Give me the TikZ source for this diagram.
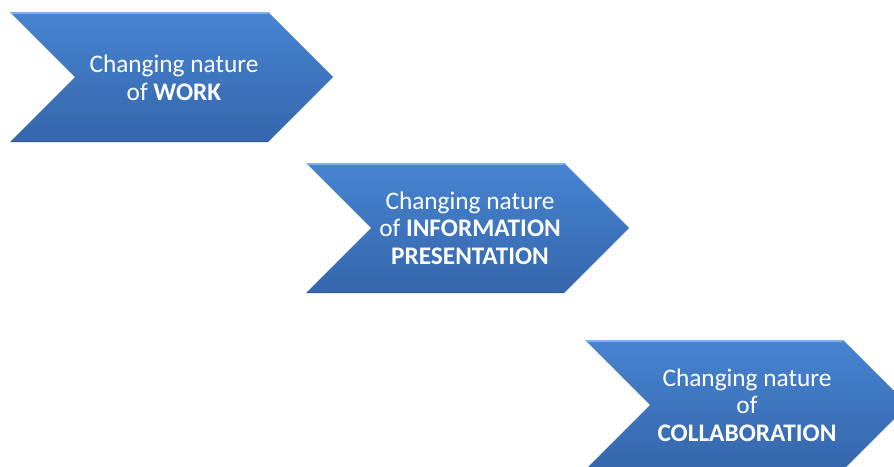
\documentclass[tikz,border=0pt]{standalone}
\usepackage{fontspec}
\setmainfont{Carlito}
\definecolor{chevtop}{HTML}{4784D0}
\definecolor{chevbot}{HTML}{3566AC}
\definecolor{chevhi}{HTML}{7FB2EC}
\definecolor{chevlo}{HTML}{2D5A98}
\tikzset{
  x=1pt, y=-1pt,
  chevfill/.style={top color=chevtop, bottom color=chevbot, draw=none},
  chevtext/.style={text=white, align=center, font=\fontsize{25.3}{27.6}\selectfont, inner sep=0pt},
}
\newcommand{\chevronat}[2]{%
  \shade[chevfill] (#1,#2) -- ++(258,0) -- ++(65,65) -- ++(-65,65) -- ++(-258,0) -- ++(65,-65) -- cycle;
  \draw[chevhi, line width=1.5pt] (#1+1,#2+1) -- ++(257,0);
  \draw[chevlo, line width=1.2pt] (#1+1,#2+129.5) -- ++(257,0);
}
\begin{document}
\begin{tikzpicture}
\useasboundingbox (0,0) rectangle (894,466);
\clip (0,0) rectangle (894,466);
\fill[white] (0,0) rectangle (894,466);
\chevronat{10}{12}
\chevronat{306}{163}
\chevronat{585}{340}
\node[chevtext] (work) at (174,78) {Changing nature\\of \textbf{WORK}};
\node[chevtext] (info) at (470,228) {Changing nature\\of \textbf{INFORMATION}\\\textbf{PRESENTATION}};
\node[chevtext] (collab) at (747,405) {Changing nature\\of\\\textbf{COLLABORATION}};
\end{tikzpicture}
\end{document}
